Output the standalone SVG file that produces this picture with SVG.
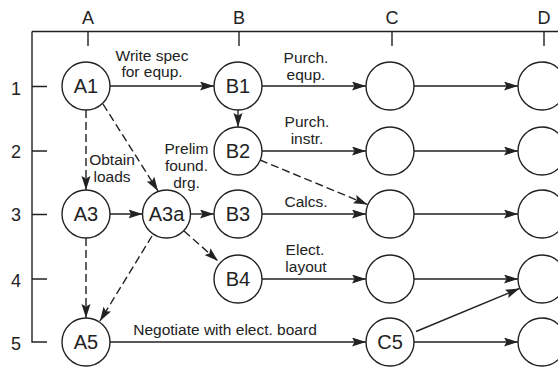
<svg xmlns="http://www.w3.org/2000/svg" width="558" height="367" viewBox="0 0 558 367">
<style>
.ln{stroke:#222;stroke-width:1.4;fill:none}
.ds{stroke:#222;stroke-width:1.4;fill:none;stroke-dasharray:8,4}
.nd{stroke:#222;stroke-width:1.4;fill:#fff}
.nl{font-family:"Liberation Sans",Arial,sans-serif;font-size:20px;fill:#222;text-anchor:middle}
.ax{font-family:"Liberation Sans",Arial,sans-serif;font-size:18px;fill:#222;text-anchor:middle}
.el{font-family:"Liberation Sans",Arial,sans-serif;font-size:15.5px;fill:#222;text-anchor:middle}
</style>
<defs>
<marker id="ar" markerUnits="userSpaceOnUse" markerWidth="15" markerHeight="10" refX="14" refY="4.5" orient="auto">
<path d="M0,0 L14,4.5 L0,9 L2.5,4.5 z" fill="#222"/>
</marker>
</defs>
<g id="axes">
<path class="ln" d="M32,31.5 H558 M32,31.5 V342 H47"/>
<path class="ln" d="M88,31.5 V46 M239,31.5 V46 M392,31.5 V46 M544,31.5 V46"/>
<path class="ln" d="M32,86.5 H47 M32,151 H47 M32,214.5 H47 M32,279 H47"/>
<text class="ax" x="88" y="24">A</text>
<text class="ax" x="239" y="24">B</text>
<text class="ax" x="392" y="24">C</text>
<text class="ax" x="544" y="24">D</text>
<text class="ax" x="16" y="94.5">1</text>
<text class="ax" x="16" y="158">2</text>
<text class="ax" x="16" y="221">3</text>
<text class="ax" x="16" y="286.5">4</text>
<text class="ax" x="16" y="350">5</text>
</g>
<g id="connectors">
<line class="ln" x1="110" y1="86" x2="214" y2="86" marker-end="url(#ar)"/>
<line class="ln" x1="262" y1="86" x2="366" y2="86" marker-end="url(#ar)"/>
<line class="ln" x1="414" y1="86" x2="518" y2="86" marker-end="url(#ar)"/>
<line class="ln" x1="238" y1="110" x2="238" y2="127" marker-end="url(#ar)"/>
<line class="ln" x1="262" y1="151" x2="366" y2="151" marker-end="url(#ar)"/>
<line class="ln" x1="414" y1="151" x2="518" y2="151" marker-end="url(#ar)"/>
<line class="ds" x1="260" y1="160" x2="367.5" y2="204.5" marker-end="url(#ar)"/>
<line class="ds" x1="86" y1="110" x2="86" y2="190" marker-end="url(#ar)"/>
<line class="ds" x1="103" y1="104" x2="158" y2="191" marker-end="url(#ar)"/>
<line class="ln" x1="110" y1="214" x2="142.5" y2="214" marker-end="url(#ar)"/>
<line class="ln" x1="190.5" y1="214" x2="214" y2="214" marker-end="url(#ar)"/>
<line class="ln" x1="262" y1="214" x2="366" y2="214" marker-end="url(#ar)"/>
<line class="ln" x1="414" y1="214" x2="518" y2="214" marker-end="url(#ar)"/>
<line class="ds" x1="184" y1="231" x2="218" y2="261" marker-end="url(#ar)"/>
<line class="ds" x1="86" y1="238" x2="86" y2="318" marker-end="url(#ar)"/>
<line class="ds" x1="152" y1="236" x2="100" y2="321" marker-end="url(#ar)"/>
<line class="ln" x1="262" y1="279" x2="366" y2="279" marker-end="url(#ar)"/>
<line class="ln" x1="414" y1="279" x2="518" y2="279" marker-end="url(#ar)"/>
<line class="ln" x1="110" y1="342" x2="366" y2="342" marker-end="url(#ar)"/>
<line class="ln" x1="414" y1="342" x2="518" y2="342" marker-end="url(#ar)"/>
<line class="ln" x1="416" y1="331.5" x2="519.5" y2="288.5" marker-end="url(#ar)"/>
<text class="el" x="152" y="61">Write spec</text>
<text class="el" x="152" y="77">for equp.</text>
<text class="el" x="306" y="63">Purch.</text>
<text class="el" x="306" y="80">equp.</text>
<text class="el" x="307" y="127">Purch.</text>
<text class="el" x="307" y="144">instr.</text>
<text class="el" x="306" y="207">Calcs.</text>
<text class="el" x="305" y="255">Elect.</text>
<text class="el" x="306" y="272">layout</text>
<text class="el" x="112" y="165">Obtain</text>
<text class="el" x="112" y="182">loads</text>
<text class="el" x="186.5" y="154">Prelim</text>
<text class="el" x="186.5" y="171">found.</text>
<text class="el" x="186.5" y="188">drg.</text>
<text class="el" x="225" y="335">Negotiate with elect. board</text>
</g>
<g id="A1"><circle class="nd" cx="86" cy="86" r="24"/><text class="nl" x="86" y="93">A1</text></g>
<g id="B1"><circle class="nd" cx="238" cy="86" r="24"/><text class="nl" x="238" y="93">B1</text></g>
<g id="C1"><circle class="nd" cx="390" cy="86" r="24"/></g>
<g id="D1"><circle class="nd" cx="542" cy="86" r="24"/></g>
<g id="B2"><circle class="nd" cx="238" cy="151" r="24"/><text class="nl" x="238" y="158">B2</text></g>
<g id="C2"><circle class="nd" cx="390" cy="151" r="24"/></g>
<g id="D2"><circle class="nd" cx="542" cy="151" r="24"/></g>
<g id="A3"><circle class="nd" cx="86" cy="214" r="24"/><text class="nl" x="86" y="221">A3</text></g>
<g id="A3a"><circle class="nd" cx="166.5" cy="214" r="24"/><text class="nl" x="166.5" y="221">A3a</text></g>
<g id="B3"><circle class="nd" cx="238" cy="214" r="24"/><text class="nl" x="238" y="221">B3</text></g>
<g id="C3"><circle class="nd" cx="390" cy="214" r="24"/></g>
<g id="D3"><circle class="nd" cx="542" cy="214" r="24"/></g>
<g id="B4"><circle class="nd" cx="238" cy="279" r="24"/><text class="nl" x="238" y="286">B4</text></g>
<g id="C4"><circle class="nd" cx="390" cy="279" r="24"/></g>
<g id="D4"><circle class="nd" cx="542" cy="279" r="24"/></g>
<g id="A5"><circle class="nd" cx="86" cy="342" r="24"/><text class="nl" x="86" y="349">A5</text></g>
<g id="C5"><circle class="nd" cx="390" cy="342" r="24"/><text class="nl" x="390" y="349">C5</text></g>
<g id="D5"><circle class="nd" cx="542" cy="342" r="24"/></g>
</svg>
